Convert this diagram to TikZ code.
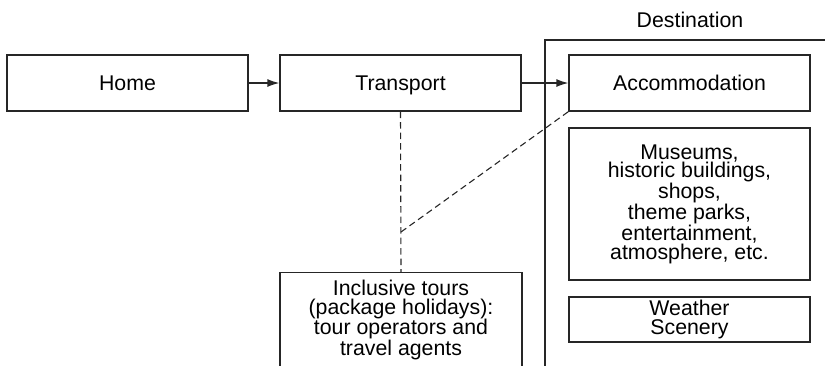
\documentclass[tikz,border=0pt]{standalone}
\usepackage{fontspec}
\setmainfont{Liberation Sans}
\usetikzlibrary{arrows.meta}

\tikzset{
  x=1pt, y=-1pt,
  lw/.style={line width=1.3pt, draw=black!85},
  box/.style={lw, rectangle, minimum width=241pt, inner sep=0pt,
    font=\fontsize{21.3}{18.6}\selectfont, align=center},
  onebox/.style={box, minimum height=56pt, text height=15.5pt, text depth=0pt},
  flow/.style={lw, -{Latex[length=12pt,width=8pt]}},
  link/.style={lw, line width=1.1pt, dash pattern=on 6.5pt off 4pt},
  label/.style={font=\fontsize{21.3}{18.6}\selectfont, inner sep=0pt}
}

\begin{document}
\begin{tikzpicture}
\useasboundingbox (0,0) rectangle (825,365);

% journey boxes
\node[onebox] (home) at (127.5,83) {Home};
\node[onebox] (transport) at (400.5,83) {Transport};
\node[onebox] (accom) at (689.5,83) {Accommodation};

% attractions at the destination
\node[box, minimum height=152pt] (attract) at (689.5,204)
  {Museums,\\historic buildings,\\shops,\\theme parks,\\entertainment,\\atmosphere, etc.};
\node[box, minimum height=45pt] (weather) at (689.5,319.5) {Weather\\Scenery};

% package holidays box (continues below the page edge)
\node[box, minimum width=242pt, minimum height=95pt, anchor=north] (tours) at (401,272)
  {Inclusive tours\\(package holidays):\\tour operators and\\travel agents};

% destination bracket
\coordinate (dtop) at (545,40);
\coordinate (dbot) at (545,370);
\coordinate (dright) at (830,40);
\draw[lw] (dbot) -- (dtop) -- (dright);
\node[label, anchor=base] (dest) at (690,27) {Destination};

% flows
\draw[flow] (home.east) -- (transport.west);
\draw[flow] (transport.east) -- (accom.west);

% package links
\coordinate (join) at (tours.north |- 0,232);
\draw[link] (transport.south) -- (tours.north);
\draw[link] (join) -- (accom.south west);
\end{tikzpicture}
\end{document}
